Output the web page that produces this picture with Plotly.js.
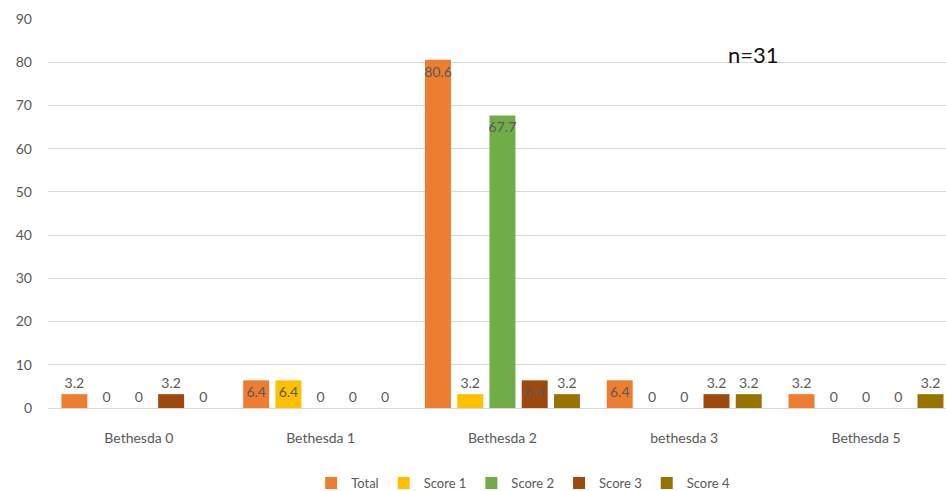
<!DOCTYPE html>
<html>
<head>
<meta charset="utf-8">
<script src="https://cdn.plot.ly/plotly-3.0.1.min.js"></script>
<style>
  html, body { margin: 0; padding: 0; background: #ffffff; }
  #chart { width: 946px; height: 491px; }
</style>
</head>
<body>
<div id="chart"></div>
<script>
// Bethesda grade categories
const categories = ['Bethesda 0', 'Bethesda 1', 'Bethesda 2', 'bethesda 3', 'Bethesda 5'];

// Percentages per series
const totalValues  = [3.2, 6.4, 80.6, 6.4, 3.2];
const score1Values = [0,   6.4, 3.2,  0,   0];
const score2Values = [0,   0,   67.7, 0,   0];
const score3Values = [3.2, 0,   6.4,  3.2, 0];
const score4Values = [0,   0,   3.2,  3.2, 3.2];

const seriesNames  = ['Total', 'Score 1', 'Score 2', 'Score 3', 'Score 4'];
const seriesValues = [totalValues, score1Values, score2Values, score3Values, score4Values];
const seriesColors = ['#ED7D31', '#FFC000', '#70AD47', '#9E480E', '#997300'];

const baseFont = 'Lato, "Liberation Sans", sans-serif';
const labelFont = { family: baseFont, size: 14, color: '#595959' };

const traces = seriesNames.map((name, i) => ({
  type: 'bar',
  name: name,
  x: categories,
  y: seriesValues[i],
  marker: { color: seriesColors[i] },
  text: seriesValues[i].map(v => String(v)),
  // taller bars carry their value inside the top end, short ones just above it
  textposition: seriesValues[i].map(v => (v > 5 ? 'inside' : 'outside')),
  insidetextanchor: 'end',
  textangle: 0,
  constraintext: 'none',
  cliponaxis: false,
  textfont: labelFont,
  insidetextfont: labelFont,
  outsidetextfont: labelFont,
  hoverinfo: 'name+y'
}));

const layout = {
  width: 946,
  height: 491,
  margin: { l: 48, r: 0, t: 19, b: 83, autoexpand: false },
  paper_bgcolor: '#ffffff',
  plot_bgcolor: '#ffffff',
  barmode: 'group',
  bargap: 0.113,
  bargroupgap: 0.195,
  font: { family: baseFont, size: 14, color: '#595959' },
  xaxis: {
    type: 'category',
    range: [-0.5, 4.44],
    showgrid: false,
    showline: true,
    linecolor: '#D9D9D9',
    linewidth: 1,
    ticks: '',
    ticklabelstandoff: 17,
    tickfont: { family: baseFont, size: 14, color: '#595959' }
  },
  yaxis: {
    range: [0, 90],
    dtick: 10,
    showgrid: true,
    gridcolor: '#D9D9D9',
    gridwidth: 1,
    zeroline: true,
    zerolinecolor: '#D9D9D9',
    showline: false,
    ticks: '',
    ticklabelstandoff: 15,
    tickfont: { family: baseFont, size: 14, color: '#595959' }
  },
  showlegend: true,
  legend: {
    orientation: 'h',
    xref: 'container',
    yref: 'container',
    x: 0.553,
    xanchor: 'center',
    y: 0.016,
    yanchor: 'middle',
    font: { family: baseFont, size: 13, color: '#595959' },
    itemwidth: 30,
    bgcolor: 'rgba(0,0,0,0)'
  },
  annotations: [{
    text: 'n=31',
    xref: 'paper',
    yref: 'paper',
    x: 0.786,
    y: 0.91,
    xanchor: 'center',
    yanchor: 'middle',
    showarrow: false,
    font: { family: baseFont, size: 22, color: '#111111' }
  }]
};

Plotly.newPlot('chart', traces, layout, { displayModeBar: false, responsive: false });
</script>
</body>
</html>
